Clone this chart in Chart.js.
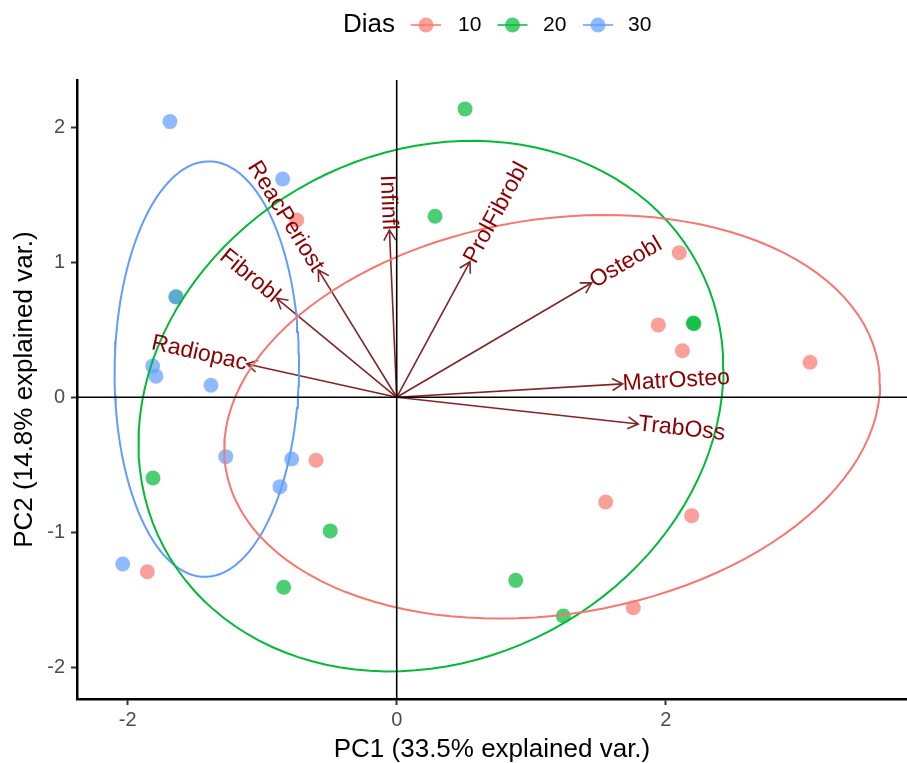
<!DOCTYPE html>
<html>
<head>
<meta charset="utf-8">
<script src="https://cdn.jsdelivr.net/npm/chart.js@4.4.0/dist/chart.umd.min.js"></script>
<style>
  html, body { margin: 0; padding: 0; background: #fff; }
</style>
</head>
<body>
<canvas id="pcaBiplot" width="907" height="763"></canvas>
<script>
// PCA scores per group (Dias = 10, 20, 30)
const groupLabels = ['10', '20', '30'];
const groupColors = ['#F8766D', '#00BA38', '#619CFF'];

const pc1Dia10 = [-0.743, 2.101, 1.945, 2.124, 3.073, -0.600, -1.854, 1.554, 2.193, 1.759];
const pc2Dia10 = [1.313, 1.071, 0.536, 0.345, 0.259, -0.467, -1.292, -0.776, -0.877, -1.559];

const pc1Dia20 = [0.508, 0.285, 2.210, 2.205, -1.640, -1.812, -0.494, -0.840, 0.885, 1.239];
const pc2Dia20 = [2.136, 1.341, 0.545, 0.550, 0.745, -0.598, -0.990, -1.407, -1.356, -1.620];

const pc1Dia30 = [-1.686, -0.848, -1.643, -1.814, -1.790, -1.381, -1.271, -0.781, -0.868, -2.037];
const pc2Dia30 = [2.042, 1.617, 0.743, 0.232, 0.156, 0.089, -0.440, -0.457, -0.662, -1.235];

// variable loadings (arrow tips)
const varNames = ['Radiopac', 'Fibrobl', 'ReacPeriost', 'Infinfl', 'ProlFibrobl', 'Osteobl', 'MatrOsteo', 'TrabOss'];
const loadPC1 = [-1.115, -0.892, -0.583, -0.054, 0.545, 1.450, 1.680, 1.796];
const loadPC2 = [0.247, 0.733, 0.943, 1.239, 1.004, 0.848, 0.099, -0.198];

const xTicks = [-2, 0, 2];
const yTicks = [-2, -1, 0, 1, 2];
const ellipseProb = 0.68;

const FONT = "'Liberation Sans', Arial, Helvetica, sans-serif";

function alpha(hex, a) {
  const n = parseInt(hex.slice(1), 16);
  return `rgba(${(n >> 16) & 255}, ${(n >> 8) & 255}, ${n & 255}, ${a})`;
}

function toPoints(xs, ys) {
  return xs.map((x, i) => ({ x: x, y: ys[i] }));
}

// normal data ellipse (same as ggbiplot: chol of covariance scaled by chi-square radius)
function dataEllipse(xs, ys, prob, steps) {
  const n = xs.length;
  const mx = xs.reduce((s, v) => s + v, 0) / n;
  const my = ys.reduce((s, v) => s + v, 0) / n;
  let a = 0, b = 0, c = 0;
  for (let i = 0; i < n; i++) {
    a += (xs[i] - mx) * (xs[i] - mx);
    b += (xs[i] - mx) * (ys[i] - my);
    c += (ys[i] - my) * (ys[i] - my);
  }
  a /= n - 1; b /= n - 1; c /= n - 1;
  const r11 = Math.sqrt(a), r12 = b / r11, r22 = Math.sqrt(c - r12 * r12);
  const ed = Math.sqrt(-2 * Math.log(1 - prob)); // qchisq(prob, 2)
  const out = [];
  for (let k = 0; k <= steps; k++) {
    const t = 2 * Math.PI * k / steps;
    const cx = Math.cos(t), cy = Math.sin(t);
    out.push({ x: mx + ed * cx * r11, y: my + ed * (cx * r12 + cy * r22) });
  }
  return out;
}

const groupsX = [pc1Dia10, pc1Dia20, pc1Dia30];
const groupsY = [pc2Dia10, pc2Dia20, pc2Dia30];

const datasets = [];
groupLabels.forEach((g, i) => {
  datasets.push({
    label: g,
    data: toPoints(groupsX[i], groupsY[i]),
    backgroundColor: alpha(groupColors[i], 0.7),
    borderWidth: 0,
    pointRadius: 7.5,
    pointHoverRadius: 7.5,
    order: 4 - i
  });
});
groupLabels.forEach((g, i) => {
  datasets.push({
    label: 'ellipse ' + g,
    type: 'line',
    data: dataEllipse(groupsX[i], groupsY[i], ellipseProb, 120),
    borderColor: groupColors[i],
    borderWidth: 2,
    pointRadius: 0,
    fill: false,
    tension: 0,
    order: 0
  });
});

const biplotLayers = {
  id: 'biplotLayers',
  beforeDatasetsDraw(chart) {
    const { ctx, scales: { x, y } } = chart;
    const x0 = x.getPixelForValue(0), y0 = y.getPixelForValue(0);
    ctx.save();
    ctx.strokeStyle = '#832424';
    ctx.lineWidth = 1.6;
    const head = 12, hang = Math.PI / 6;
    varNames.forEach((v, i) => {
      const x1 = x.getPixelForValue(loadPC1[i]);
      const y1 = y.getPixelForValue(loadPC2[i]);
      const ang = Math.atan2(y1 - y0, x1 - x0);
      ctx.beginPath();
      ctx.moveTo(x0, y0);
      ctx.lineTo(x1, y1);
      ctx.moveTo(x1 - head * Math.cos(ang - hang), y1 - head * Math.sin(ang - hang));
      ctx.lineTo(x1, y1);
      ctx.lineTo(x1 - head * Math.cos(ang + hang), y1 - head * Math.sin(ang + hang));
      ctx.stroke();
    });
    ctx.restore();
  },
  afterDatasetsDraw(chart) {
    const { ctx, chartArea: ca, scales: { x, y } } = chart;
    const x0 = x.getPixelForValue(0), y0 = y.getPixelForValue(0);
    ctx.save();
    // reference lines through the origin
    ctx.strokeStyle = '#000';
    ctx.lineWidth = 1.6;
    ctx.beginPath();
    ctx.moveTo(ca.left, y0); ctx.lineTo(ca.right, y0);
    ctx.moveTo(x0, ca.top); ctx.lineTo(x0, ca.bottom);
    ctx.stroke();
    // variable names along their arrows
    ctx.fillStyle = '#8B0000';
    ctx.font = '23px ' + FONT;
    ctx.textBaseline = 'middle';
    varNames.forEach((v, i) => {
      const x1 = x.getPixelForValue(loadPC1[i]);
      const y1 = y.getPixelForValue(loadPC2[i]);
      ctx.save();
      ctx.translate(x1, y1);
      ctx.rotate(Math.atan((y1 - y0) / (x1 - x0)));
      ctx.textAlign = x1 >= x0 ? 'left' : 'right';
      ctx.fillText(v, 0, 0);
      ctx.restore();
    });
    ctx.restore();
  },
  afterDraw(chart) {
    const ctx = chart.ctx;
    const cy = 25;
    ctx.save();
    ctx.textBaseline = 'middle';
    ctx.textAlign = 'left';
    ctx.fillStyle = '#000';
    ctx.font = '26px ' + FONT;
    ctx.fillText('Dias', 343, cy);
    const keyX = [426, 512.5, 598];
    const labX = [458, 543, 628];
    groupLabels.forEach((g, i) => {
      ctx.strokeStyle = alpha(groupColors[i], 0.75);
      ctx.lineWidth = 2;
      ctx.beginPath();
      ctx.moveTo(keyX[i] - 15, cy); ctx.lineTo(keyX[i] + 15, cy);
      ctx.stroke();
      ctx.fillStyle = alpha(groupColors[i], 0.7);
      ctx.beginPath();
      ctx.arc(keyX[i], cy, 7.5, 0, Math.PI * 2);
      ctx.fill();
      ctx.fillStyle = '#000';
      ctx.font = '21px ' + FONT;
      ctx.fillText(g, labX[i], cy);
    });
    ctx.restore();
  }
};

new Chart(document.getElementById('pcaBiplot'), {
  type: 'scatter',
  data: { datasets: datasets },
  options: {
    responsive: false,
    animation: false,
    devicePixelRatio: 1,
    layout: { autoPadding: false, padding: { top: 80, right: 0, bottom: 0, left: 0 } },
    plugins: { legend: { display: false }, tooltip: { enabled: false } },
    scales: {
      x: {
        type: 'linear',
        min: -2.377,
        max: 3.794,
        afterBuildTicks: s => { s.ticks = xTicks.map(v => ({ value: v })); },
        afterFit: s => { s.height = 64; s.paddingLeft = 0; s.paddingRight = 0; },
        ticks: { color: '#4D4D4D', font: { family: FONT, size: 20 }, padding: 3, callback: v => String(v) },
        grid: { drawOnChartArea: false, tickLength: 6, tickColor: '#333', tickWidth: 2 },
        border: { display: true, color: '#000', width: 2.5 },
        title: { display: true, text: 'PC1 (33.5% explained var.)', color: '#000',
                 font: { family: FONT, size: 26, lineHeight: 1 }, padding: { top: 0, bottom: 0 } }
      },
      y: {
        type: 'linear',
        min: -2.235,
        max: 2.350,
        afterBuildTicks: s => { s.ticks = yTicks.map(v => ({ value: v })); },
        afterFit: s => { s.width = 77; s.paddingTop = 0; s.paddingBottom = 0; },
        ticks: { color: '#4D4D4D', font: { family: FONT, size: 20 }, padding: 6, callback: v => String(v) },
        grid: { drawOnChartArea: false, tickLength: 6, tickColor: '#333', tickWidth: 2 },
        border: { display: true, color: '#000', width: 2.5 },
        title: { display: true, text: 'PC2 (14.8% explained var.)', color: '#000',
                 font: { family: FONT, size: 26, lineHeight: 1 }, padding: { top: 12, bottom: 0 } }
      }
    }
  },
  plugins: [biplotLayers]
});
</script>
</body>
</html>
